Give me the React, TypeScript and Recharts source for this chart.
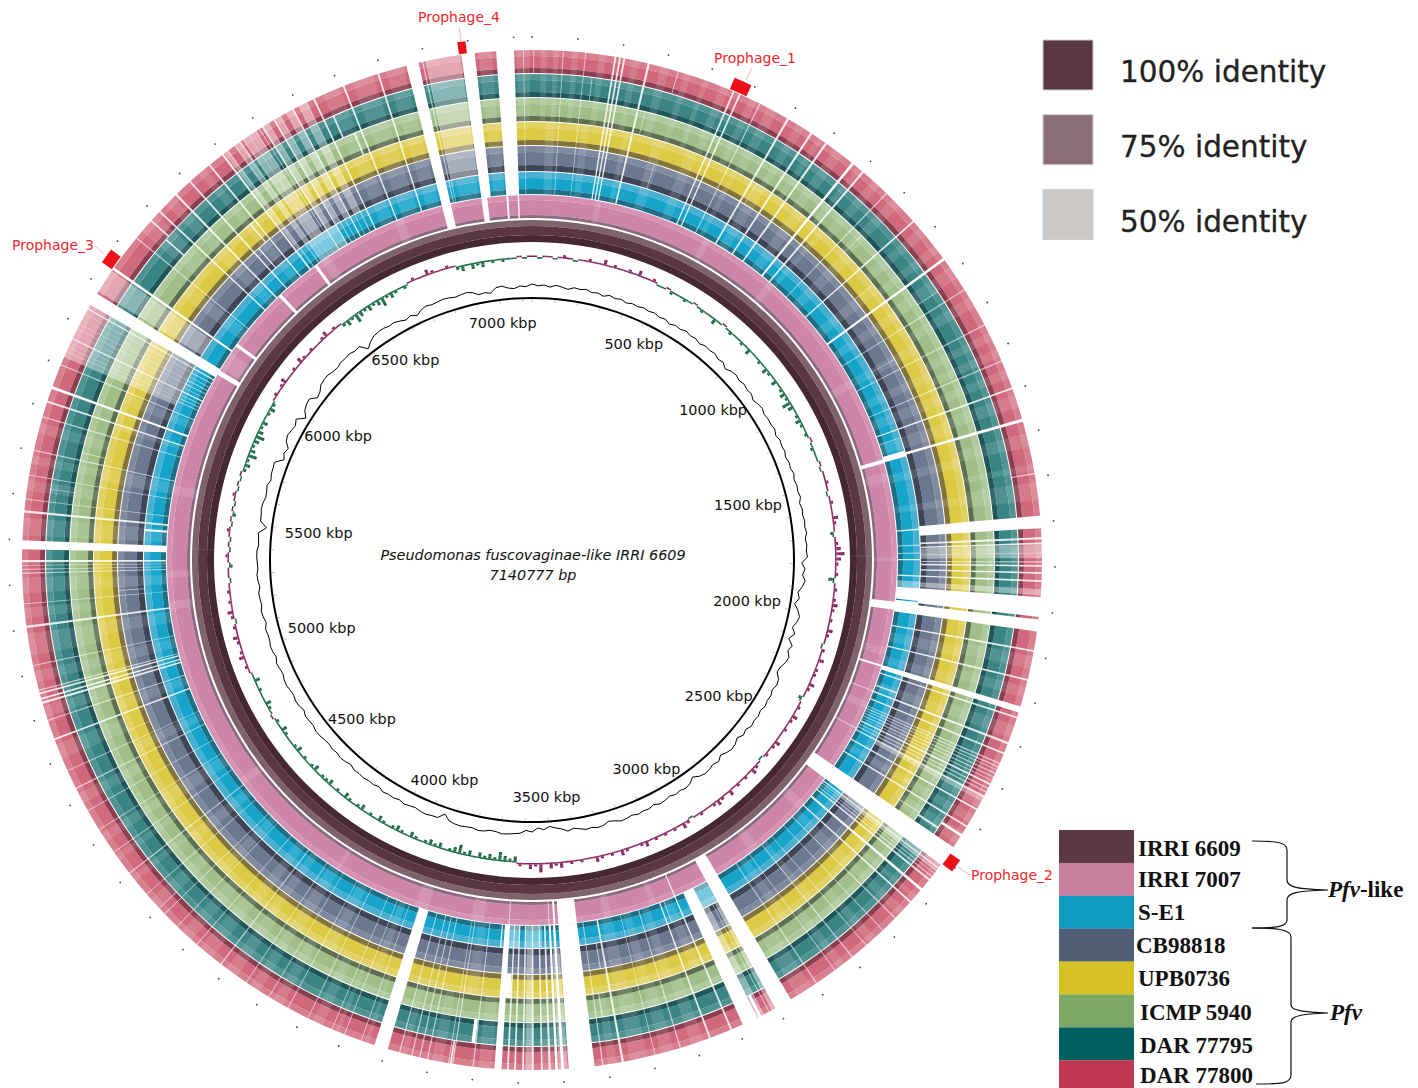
import React from "react";
import { PieChart, Pie, Cell, RadarChart, Radar, PolarAngleAxis, PolarRadiusAxis } from "recharts";

const GENOME_KB = 7140;
const CX = 532;
const CY = 560;

// ---- white breaks (no hit) in kbp ----
const outerGaps = [
  [69,71],[119,121],[185,189],[195,199],[205,209],[260,265],[460,464],[475,479],[525,528],[595,600],[656,661],[696,701],
  [770,776],[800,805],[872,875],[958,962],[1065,1071],[1149,1152],[1239,1242],[1328,1331],[1393,1397],[1466,1473],
  [1987,1991],[2053,2057],[2116,2130],[2140,2144],[2200,2205],[2225,2229],[2250,2253],[2258,2261],[2266,2268],[2274,2277],
  [2283,2286],[2292,2294],[2300,2304],[2311,2314],[2320,2323],[2331,2335],[2364,2368],[2408,2412],[2465,2513],
  [2520,2524],[2528,2531],[2536,2538],[2544,2547],[2553,2557],[2580,2586],[2618,2622],[2668,2671],[2707,2709],[2757,2759],
  [2797,2800],[2846,2848],[2896,2899],[2965,3005],[3012,3014],[3020,3022],[3034,3036],[3050,3086],[3112,3116],[3163,3167],
  [3233,3236],[3292,3294],[3364,3369],[3410,3413],[3430,3488],[3498,3505],[3512,3518],[3528,3533],[3546,3550],[3566,3571],
  [3588,3592],[3606,3610],[3622,3626],[3638,3654],[3700,3703],[3746,3749],[3756,3758],[3803,3806],[3821,3824],[3839,3842],
  [3867,3870],[3896,3927],[3957,3959],[3997,3999],[4027,4029],[4086,4088],[4136,4138],[4185,4187],[4245,4247],[4314,4317],
  [4384,4386],[4443,4445],[4483,4485],[4542,4544],[4602,4605],[4661,4663],[4721,4723],[4770,4772],[4826,4829],[4870,4872],
  [4945,4949],[4990,4993],[5030,5035],[5040,5044],[5052,5056],[5060,5063],[5117,5119],[5203,5208],[5256,5258],
  [5324,5327],[5333,5335],[5342,5344],[5350,5355],[5379,5399],[5461,5466],[5490,5492],[5544,5546],[5600,5603],[5677,5680],
  [5712,5716],[5744,5750],[5800,5803],[5832,5835],[5842,5845],[5853,5855],[5863,5867],[5876,5878],[5888,5891],[5900,5903],
  [5912,5914],[5925,5928],[5938,5942],[5950,5979],[6043,6049],[6130,6133],[6208,6212],[6260,6265],[6303,6307],[6360,6364],
  [6397,6402],[6412,6415],[6432,6435],[6444,6447],[6455,6458],[6470,6473],[6480,6482],[6488,6491],[6498,6500],[6506,6510],
  [6522,6524],[6536,6540],[6552,6555],[6568,6570],[6584,6588],[6600,6602],[6618,6621],[6636,6640],[6708,6712],[6790,6794],
  [6857,6885],[6893,6896],[6901,6903],[6982,7012],[7060,7100],[7120,7122],
];
const slateOutGaps = [
  [1686,1714],[1734,1739],[1746,1750],[1768,1771],[1788,1791],[1796,1800],[1812,1816],[1830,1834],[1868,1912],[1918,1945],
];
const blueGaps = [
  [1460,1478],[1693,1697],[1740,1743],[1763,1766],[1782,1786],[1830,1834],[1868,1905],[1909,1945],[5440,5446],
];
const pinkGaps = [
  [1468,1480],[1915,1940],[2116,2122],[2200,2203],[2327,2330],[2465,2513],[2965,3005],[3112,3116],[3430,3488],[3497,3503],
  [3515,3518],[3640,3643],[5960,5975],[6065,6075],[6270,6280],[6415,6425],[6857,6885],[6982,7000],[7060,7066],[7095,7100],
];
const redExtra = [[3,5],[330,332],[1590,1593],[2430,2436],[3040,3048],[3750,3754],[4500,4502],[6180,6184],[6445,6449]];
const tealExtra = [[140,142],[1120,1122],[2445,2450],[3700,3712],[5520,5522],[6170,6174],[6660,6664]];
const greenExtra = [[280,282],[900,902],[2440,2443],[3395,3398],[5620,5622],[6690,6694]];
const yellowExtra = [[610,612],[1012,1014],[3625,3640],[4900,4902],[6345,6349]];
const slateExtra = [[340,342],[1210,1212],[3380,3383],[5270,5272],[6320,6324]];
const blueExtra = [[1420,1422],[2180,2184],[3150,3153],[3660,3664]];

// ---- paler (lower identity) blocks in kbp ----
const paleA = [
  [20,34],[48,60],[90,104],[150,166],[225,240],[290,310],[345,360],[390,402],[430,450],[500,518],[545,570],[620,640],[675,690],
  [720,745],[785,798],[830,852],[890,915],[980,1002],[1030,1050],[1090,1120],[1170,1195],[1260,1280],[1300,1320],[1350,1372],
  [1410,1440],[1500,1530],[1570,1585],[1610,1650],[2000,2030],[2070,2095],[2160,2190],[2345,2360],[2380,2400],[2425,2455],
  [2600,2612],[2640,2660],[2730,2750],[2820,2840],[2910,2950],[3180,3210],[3250,3280],[3310,3350],[3380,3400],[3520,3545],
  [3660,3690],[3770,3795],[3850,3864],[3940,3950],[4010,4020],[4050,4075],[4150,4175],[4210,4235],[4270,4300],[4340,4375],
  [4400,4430],[4500,4530],[4580,4595],[4640,4655],[4690,4712],[4790,4815],[4900,4935],[5000,5025],[5080,5105],[5140,5190],
  [5225,5248],[5280,5316],[5410,5450],[5510,5535],[5570,5590],[5640,5665],[6150,6200],[6230,6255],[6330,6350],[6660,6700],
  [6730,6780],[6810,6850],[6915,6975],[7020,7050],[7105,7135],
];
const paleB = [
  [35,60],[130,150],[240,255],[320,350],[410,440],[540,555],[610,640],[730,760],[815,830],[900,930],[1010,1040],[1100,1125],
  [1200,1225],[1280,1305],[1345,1375],[1420,1455],[1520,1545],[1620,1640],[2010,2040],[2085,2110],[2170,2195],[2380,2400],
  [2640,2665],[2780,2795],[2860,2885],[3125,3150],[3200,3225],[3260,3285],[3320,3355],[3710,3740],[3970,3990],
  [4100,4130],[4200,4235],[4280,4305],[4330,4360],[4450,4475],[4560,4590],[4680,4715],[4840,4865],[4960,4985],[5080,5110],
  [5160,5195],[5280,5310],[5410,5450],[5560,5595],[5700,5710],[5770,5795],[6090,6125],[6225,6255],[6330,6355],[6660,6700],
  [6730,6780],[6810,6850],[6915,6975],[7020,7055],
];
const palePink = [
  [200,216],[560,580],[800,825],[1200,1225],[1510,1540],[1775,1790],[2060,2085],[2240,2262],[2610,2640],[2810,2840],[3175,3195],
  [3320,3345],[3720,3760],[3900,3940],[4200,4215],[4600,4625],[5200,5225],[5300,5320],[5560,5590],[5985,6040],[6440,6470],[6700,6730],
];
const faintOuter = [
  [1751,1781],[1850,1864],[2330,2345],[5985,6040],[3490,3510],[3570,3585],[6903,6980],[2513,2530],[3005,3012],[3036,3050],
  [5820,5950],[6404,6412],[6435,6444],[6458,6470],[6473,6488],[6510,6522],[6540,6552],[6570,6584],[6602,6618],
];
const faintBlue = [[1848,1868],[6440,6540],[3540,3590],[3610,3640],[3005,3050]];

// ---- rings ----
const ringNames = ["DAR 77800","DAR 77795","ICMP 5940","UPB0736","CB98818","S-E1","IRRI 7007","IRRI 6609"];
const ringOuterColors = ["#d87f8f","#4f9392","#aec99b","#e2d266","#7f8a9f","#48afd0","#d592b2","#7e636c"];
const ringMidColors = ["#d0697d","#3a8484","#a0bf88","#dcc944","#6c788f","#17a4cb","#cd86a8","#5a3742"];
const ringDarkColors = ["#8b3f50","#1f5658","#5c7050","#81733a","#3d4556","#1b6f86","#8e6a7e","#452833"];
const ringGaps = [
  [...outerGaps,...slateOutGaps,...redExtra],
  [...outerGaps,...slateOutGaps,...tealExtra],
  [...outerGaps,...slateOutGaps,...greenExtra],
  [...outerGaps,...slateOutGaps,...yellowExtra],
  [...outerGaps,...slateOutGaps,...slateExtra],
  [...outerGaps,...blueGaps,...blueExtra],
  pinkGaps,
  [],
];
const ringPale = [paleA,paleA,paleA,paleB,paleB,paleB,palePink,[[1770,1773],[5390,5393]]];
const ringFaint = [faintOuter,faintOuter,faintOuter,faintOuter,faintOuter,faintBlue,[],[]];
// outer edge, outer band inner edge, mid band inner edge, ring inner edge (px)
const ringRadii = [
  [510,504,492,487],[486,480,468,463],[462,456,444,439],[438,432,420,415],
  [414,408,395,389],[388,382,371,366],[365,360,345,342],[340,334,325,318],
];

// ---- GC content, one value per 25 kbp ----
const gcContent = [
  63.4,62.7,63.1,62.4,63.3,62.8,62.2,63.2,62.9,63.4,62.6,63,62.3,63.3,62.7,63.2,62.5,63.1,62.8,63.3,
  62.9,63.3,62.6,63.1,62.2,63,62.7,63.4,62.8,63.1,62.4,63.2,62.9,63.3,62.5,63,61.7,62.8,63.2,62.6,
  63.2,62.7,63.1,62.1,62.8,63.3,62.6,63,62.9,63.3,62.5,63.2,62.8,63.1,62.4,63,62.7,63.3,62.6,63.1,
  62.8,63.3,62.4,63,62.7,63.2,62.9,63.4,62.6,63.1,62.8,63.2,60.9,62.3,61.4,62.6,61.6,60.2,61,59.5,
  61.2,62.4,61.8,60.6,62.2,60.4,62.6,61.6,62.9,62.4,61.2,60.8,62.5,63,62.2,62.9,62.6,63.1,62.4,63,
  62.6,63.1,62.1,62.8,61.6,62.7,63.1,62.5,61.5,62.9,62.2,62.8,63,62.4,61,62.5,63.1,62.6,63,62.3,
  62.9,63.2,62.3,63,62.8,63.2,62.6,63.1,63.3,62.5,61.9,62.9,63.2,62.6,62.9,62.2,61.6,62.4,61.2,60.6,
  59.8,61,60.2,61.8,61.2,62.4,62.7,63,63.2,62.6,62.4,63.1,63.3,62.7,62.9,63.2,63,62.5,60.4,62.7,
  62.8,63.2,63,62.5,62.8,63.2,62.6,63.1,62.9,63.3,62.4,63,62.8,63.2,62.9,63.1,62.3,62.9,63.2,62.7,
  63,62.6,62.8,63.2,63.3,62.7,62.9,63.1,62.2,62.9,63.1,62.6,62.8,63.3,63.1,62.5,62.9,63.2,62.4,63,
  63.2,62.7,62.8,63.1,62.2,62.9,63.2,62.6,62.9,63.1,62.4,62.9,63.2,62.7,62.9,63.1,63.1,62.5,62.7,63,
  60,62.7,62.8,63.2,63,62.4,62.6,63.1,62.2,62.8,62.9,63.2,60,61,60.2,62.2,62.8,62.3,61.8,62.9,
  59.8,61.8,62.6,62.9,60.6,61.2,62.7,63.1,63.2,62.6,62.4,63,62.9,63.2,62.5,62.9,59.9,61.6,62.7,63,
  63.1,62.6,62.9,62.2,61.4,62.2,61,62.4,63.1,62.7,62.9,63.2,63,62.5,62.8,63.1,62.6,61.2,61.6,61,
  62.9,63.2,62.2,61.8,62.7,62.4,
];
const gcBinKb = 25;

// ---- GC skew, one level per degree; >0 purple outward, <0 green inward ----
const skewLevels = [
  1,-1,1,1,-1,1,2,1,-1,1,
  1,2,1,1,3,1,2,1,1,2,1,3,1,1,2,
  -1,-1,1,-2,-1,-1,-2,-1,1,-1,-2,-1,-1,-3,-1,1,-1,-2,-1,-1,-2,-1,-3,-1,-1,
  -2,-1,-3,-2,-1,-3,-1,-2,-3,-2,-4,-3,-1,-2,-3,-2,-1,-2,1,-1,-2,-1,-1,1,-1,
  1,1,2,1,-1,1,2,1,1,3,2,1,-2,1,2,3,4,3,2,1,2,-3,1,2,1,
  2,3,2,1,2,1,3,2,1,-1,2,1,3,1,2,2,1,3,2,1,-2,1,2,1,3,2,1,2,1,1,
  3,2,1,2,-1,1,2,3,1,2,1,2,1,3,1,2,3,2,1,1,2,1,-1,2,3,1,2,1,2,1,
  2,1,3,2,1,1,2,3,1,2,1,2,3,1,1,2,1,2,1,3,
  2,3,1,4,2,3,1,2,
  -3,-2,-3,-4,-2,-3,-2,-3,-1,-3,-2,-4,-3,-2,-1,-3,-2,-3,-2,-1,-2,-3,-1,-2,-3,-2,-1,-2,-3,-1,-2,-1,-3,-2,-1,-2,-3,-1,-2,-1,-3,-2,-2,-1,-3,-2,-1,
  -2,-1,-3,-2,-1,-1,-2,-3,-1,-2,1,-1,-2,-3,-1,-1,-2,-1,-3,-1,
  1,2,1,3,2,1,2,3,1,2,-1,2,3,1,2,1,2,
  1,-1,1,1,-2,1,2,-1,1,-1,1,2,-1,1,-2,1,-1,1,2,-1,1,-1,1,
  -2,-3,-2,-4,-3,-2,-3,-4,-3,-2,-3,-1,-2,-3,-2,
  1,2,1,2,3,1,1,2,1,3,2,1,2,1,1,2,3,1,2,1,
  -2,-3,-2,-4,-3,-2,-3,-2,-3,-4,-2,-3,-2,-1,-2,
  1,2,1,1,3,2,1,1,2,1,
  -2,-3,-1,-3,-2,-3,-1,-2,-1,-2,-1,
  -1,1,-1,1,
];
const outwardBands = [[303,304.6],[304.6,306.5],[306.5,309],[309,312.5]];
const inwardBands = [[301.4,303],[299.5,301.4],[297,299.5],[293.5,297]];

// ---- prophage markers, kbp ----
const prophages = [
  { name: "Prophage_1", start: 452, end: 492 },
  { name: "Prophage_2", start: 2480, end: 2510 },
  { name: "Prophage_3", start: 6043, end: 6077 },
  { name: "Prophage_4", start: 6977, end: 6995 },
];

// ---- tick labels ----
const tickLabelKb = [500,1000,1500,2000,2500,3000,3500,4000,4500,5000,5500,6000,6500,7000];
const tickLabelRadius = [239,235,223,219,231,238,237,237,233,221,215,230,237,239];

// ---- legends ----
const identityLabels = ["100% identity","75% identity","50% identity"];
const identityColors = ["#5a3742","#8c6f76","#cbc8c6"];
const strainColors = ["#5b3a45","#cb7f9f","#0f9bc0","#4f5e73","#d6c124","#7ca866","#00605f","#c0384f"];
const strainLabels = ["IRRI 6609","IRRI 7007","S-E1","CB98818","UPB0736","ICMP 5940","DAR 77795","DAR 77800"];
const strainLabelX = [1138,1138,1138,1136,1138,1140,1140,1140];
const strainBaseline = [856,887,920,953,986,1020,1053,1083];

type Seg = { kb: number; fill: string; op: number };

function buildOverlay(gaps: number[][], pale: number[][], faint: number[][]): Seg[] {
  const pts = new Set<number>([0, GENOME_KB]);
  [...gaps, ...pale, ...faint].forEach(([a, b]) => { pts.add(a); pts.add(b); });
  const sorted = [...pts].sort((a, b) => a - b);
  const find = (list: number[][], m: number) => list.find(([a, b]) => a <= m && m < b);
  const out: Seg[] = [];
  for (let i = 0; i + 1 < sorted.length; i++) {
    const a = sorted[i], b = sorted[i + 1], m = (a + b) / 2;
    let fill = "none", op = 0;
    const g = find(gaps, m);
    if (g) { fill = "#ffffff"; op = g[1] - g[0] <= 3 ? 0.6 : g[1] - g[0] <= 5 ? 0.85 : 1; }
    else if (find(faint, m)) { fill = "#ffffff"; op = 0.4; }
    else if (find(pale, m)) { fill = "#ffffff"; op = 0.12; }
    const last = out[out.length - 1];
    if (last && last.fill === fill && last.op === op) last.kb += b - a;
    else out.push({ kb: b - a, fill, op });
  }
  return out;
}

function markerSegments(): Seg[] {
  const out: Seg[] = [];
  let pos = 0;
  prophages.forEach((p) => {
    out.push({ kb: p.start - pos, fill: "none", op: 0 });
    out.push({ kb: p.end - p.start, fill: "#ec1119", op: 1 });
    pos = p.end;
  });
  out.push({ kb: GENOME_KB - pos, fill: "none", op: 0 });
  return out;
}

const fullCircle = [{ kb: GENOME_KB }];
const skewBin = GENOME_KB / skewLevels.length;
// each degree: a spike, then the line at its lowest level
const skewData = skewLevels.flatMap((level) => [
  { kb: skewBin * 0.6, level },
  { kb: skewBin * 0.4, level: Math.sign(level) },
]);
const gcData = gcContent.map((gc, i) => ({ pos: i * gcBinKb, gc }));

const common = {
  cx: CX, cy: CY, startAngle: 90, endAngle: -270, dataKey: "kb", stroke: "none",
  isAnimationActive: false, paddingAngle: 0, legendType: "none" as const,
};

function AxisTick(props: any) {
  const kb = Number(props.payload.value);
  const theta = (kb / GENOME_KB) * 2 * Math.PI;
  const ux = Math.sin(theta), uy = -Math.cos(theta);
  const parts: React.ReactNode[] = [];
  if (kb % 100 === 0) {
    parts.push(<line key="t" x1={CX + ux * 258} y1={CY + uy * 258} x2={CX + ux * 261} y2={CY + uy * 261} stroke="#999" strokeWidth={0.6} />);
    parts.push(<circle key="d" cx={CX + ux * 523} cy={CY + uy * 523} r={0.9} fill="#444" />);
  }
  const li = tickLabelKb.indexOf(kb);
  if (li >= 0) {
    const r = tickLabelRadius[li];
    parts.push(
      <text key="l" x={CX + ux * r} y={CY + uy * r} textAnchor="middle" dominantBaseline="central"
        fontFamily="DejaVu Sans" fontSize={14.4} fill="#111">{`${kb} kbp`}</text>
    );
  }
  return <g>{parts}</g>;
}

export default function App() {
  const markers = markerSegments();
  return (
    <div style={{ position: "absolute", left: 0, top: 0, width: 1418, height: 1088, background: "#fff", overflow: "hidden" }}>
      <div style={{ position: "absolute", left: 0, top: 0 }}>
        <PieChart width={1418} height={1088} margin={{ top: 0, right: 0, bottom: 0, left: 0 }}>
          {ringNames.map((name, i) => {
            const [r0, r1, r2, r3] = ringRadii[i];
            const overlay = buildOverlay(ringGaps[i], ringPale[i], ringFaint[i]);
            return (
              <React.Fragment key={name}>
                <Pie {...common} name={`${name} a`} data={fullCircle} outerRadius={r0} innerRadius={r1} fill={ringOuterColors[i]} />
                <Pie {...common} name={`${name} b`} data={fullCircle} outerRadius={r1} innerRadius={r2} fill={ringMidColors[i]} />
                <Pie {...common} name={`${name} c`} data={fullCircle} outerRadius={r2} innerRadius={r3} fill={ringDarkColors[i]} />
                <Pie {...common} name={`${name} hits`} data={overlay} outerRadius={r0 + 0.5} innerRadius={r3 - 0.5}>
                  {overlay.map((s, k) => <Cell key={k} fill={s.fill} fillOpacity={s.op} stroke="none" />)}
                </Pie>
              </React.Fragment>
            );
          })}
          <Pie {...common} name="prophages" data={markers} outerRadius={523} innerRadius={511}>
            {markers.map((s, k) => <Cell key={k} fill={s.fill} fillOpacity={s.op} stroke="none" />)}
          </Pie>
          {outwardBands.map(([a, b], n) => (
            <Pie {...common} key={`o${n}`} name={`skew+${n}`} data={skewData} innerRadius={a} outerRadius={b}>
              {skewData.map((s, k) => <Cell key={k} fill={s.level > n ? "#86265e" : "none"} stroke="none" />)}
            </Pie>
          ))}
          {inwardBands.map(([a, b], n) => (
            <Pie {...common} key={`i${n}`} name={`skew-${n}`} data={skewData} innerRadius={a} outerRadius={b}>
              {skewData.map((s, k) => <Cell key={k} fill={-s.level > n ? "#1a6b43" : "none"} stroke="none" />)}
            </Pie>
          ))}
          <Pie {...common} name="backbone" data={fullCircle} innerRadius={261} outerRadius={263} fill="#000" />
        </PieChart>
      </div>
      <div style={{ position: "absolute", left: 0, top: 0 }}>
        <RadarChart width={1418} height={1088} cx={CX} cy={CY} outerRadius={300} data={gcData} margin={{ top: 0, right: 0, bottom: 0, left: 0 }}>
          <PolarRadiusAxis domain={[-47, 73]} tick={false} axisLine={false} tickLine={false} />
          <PolarAngleAxis dataKey="pos" tick={AxisTick} tickLine={false} axisLine={false} />
          <Radar dataKey="gc" stroke="#000" strokeWidth={1} fill="none" dot={false} isAnimationActive={false} />
        </RadarChart>
      </div>
      <svg width={1418} height={1088} style={{ position: "absolute", left: 0, top: 0 }}>
        <g fontFamily="DejaVu Sans" fontStyle="italic" fontSize={14.4} fill="#111" textAnchor="middle">
          <text x={533} y={560}>Pseudomonas fuscovaginae-like IRRI 6609</text>
          <text x={533} y={580}>7140777 bp</text>
        </g>
        <g fontFamily="DejaVu Sans" fontSize={14} fill="#f0282d">
          <text x={714} y={63}>{prophages[0].name}</text>
          <text x={971} y={880}>{prophages[1].name}</text>
          <text x={12} y={250}>{prophages[2].name}</text>
          <text x={418} y={22}>{prophages[3].name}</text>
        </g>
        <g stroke="#f2a0a0" strokeWidth={0.8}>
          <line x1={752} y1={68} x2={746} y2={80} />
          <line x1={970} y1={875} x2={958} y2={867} />
          <line x1={95} y1={246} x2={105} y2={255} />
          <line x1={459} y1={27} x2={461} y2={41} />
        </g>
        {identityLabels.map((t, i) => (
          <g key={t}>
            <rect x={1043} y={40 + i * 74.7} width={50} height={50} fill={identityColors[i]} stroke="#ccc" strokeWidth={1} />
            <text x={1120} y={82 + i * 75} fontFamily="DejaVu Sans" fontSize={29.5} fill="#222" stroke="#222" strokeWidth={0.3}>{t}</text>
          </g>
        ))}
        {strainLabels.map((t, i) => (
          <g key={t}>
            <rect x={1059} y={830 + i * 32.9} width={75} height={33} fill={strainColors[i]} />
            <text x={strainLabelX[i]} y={strainBaseline[i]} fontFamily="Liberation Serif" fontWeight="bold" fontSize={23} fill="#111">{t}</text>
          </g>
        ))}
        <g fill="none" stroke="#111" strokeWidth={1.2}>
          <path d="M1252 841 C1275 841 1287 842 1287 850 L1287 880 C1287 888 1300 889 1328 890 C1300 891 1287 892 1287 900 L1287 920 C1287 927 1275 928 1252 928" />
          <path d="M1252 928 C1275 928 1291 929 1291 937 L1291 1005 C1291 1011 1305 1012 1328 1013 C1305 1014 1291 1015 1291 1022 L1291 1075 C1291 1084 1280 1084 1256 1084" />
        </g>
        <g fontFamily="Liberation Serif" fontWeight="bold" fontSize={23} fill="#111">
          <text x={1328} y={897}><tspan fontStyle="italic">Pfv</tspan>-like</text>
          <text x={1330} y={1020} fontStyle="italic">Pfv</text>
        </g>
      </svg>
    </div>
  );
}
